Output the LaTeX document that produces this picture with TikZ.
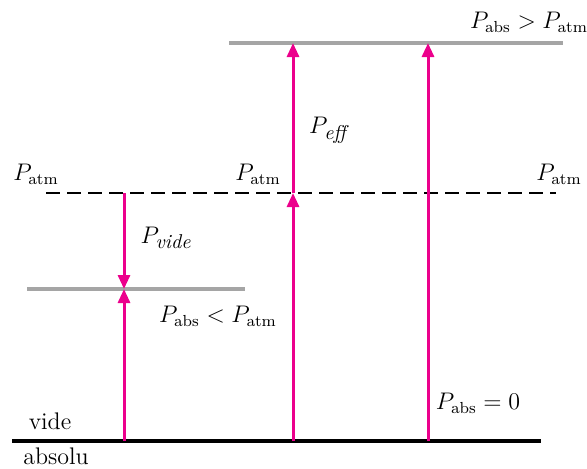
\documentclass[tikz,border=0pt]{standalone}
\usetikzlibrary{arrows.meta}
\usepackage{xcolor}
\definecolor{presspink}{RGB}{236, 0, 140}
\definecolor{levelgray}{RGB}{165, 165, 165}

\begin{document}
\begin{tikzpicture}[
    x=0.5pt, y=-0.5pt,
    font=\large,
    level/.style={draw=#1, line width=1.6pt},
    level/.default=levelgray,
    press/.style={presspink, line width=1.5pt, -{Triangle[length=7pt, width=6pt]}}
]
    \useasboundingbox (0,0) rectangle (587,468);

    % ==========================================
    % LEVELS (absolute zero, vacuum, atmosphere, overpressure)
    % ==========================================
    \coordinate (zero_l)  at (12, 441);
    \coordinate (zero_r)  at (541, 441);
    \coordinate (atm_l)   at (46, 193);
    \coordinate (atm_r)   at (556, 193);
    \coordinate (low_l)   at (27, 289);
    \coordinate (low_r)   at (245, 289);
    \coordinate (high_l)  at (229, 43);
    \coordinate (high_r)  at (563, 43);

    \draw[level=black] (zero_l) -- (zero_r);
    \draw[line width=1pt, dash pattern=on 7pt off 3.5pt] (atm_l) -- (atm_r);
    \draw[level] (low_l) -- (low_r);
    \draw[level] (high_l) -- (high_r);

    % ==========================================
    % ARROWS (Pink)
    % ==========================================
    \coordinate (v_zero) at (124, 441);
    \coordinate (v_low)  at (124, 289);
    \coordinate (v_atm)  at (124, 193);
    \coordinate (e_zero) at (293, 441);
    \coordinate (e_atm)  at (293, 193);
    \coordinate (e_high) at (293, 43);
    \coordinate (a_zero) at (428, 441);
    \coordinate (a_high) at (428, 43);

    \draw[press] (v_atm)  -- (v_low);
    \draw[press] (v_zero) -- (v_low);
    \draw[press] (e_zero) -- (e_atm);
    \draw[press] (e_atm)  -- (e_high);
    \draw[press] (a_zero) -- (a_high);

    % ==========================================
    % LABELS
    % ==========================================
    \node (atm_lbl_l) at (36, 174)  {$P_{\mathrm{atm}}$};
    \node (atm_lbl_m) at (258, 174) {$P_{\mathrm{atm}}$};
    \node (atm_lbl_r) at (559, 174) {$P_{\mathrm{atm}}$};
    \node (vide_lbl)  at (166, 238) {$P_{\mbox{\normalsize\itshape vide}}$};
    \node (low_lbl)   at (218, 316) {$P_{\mathrm{abs}} < P_{\mathrm{atm}}$};
    \node (eff_lbl)   at (328, 130) {$P_{\mbox{\normalsize\itshape eff}}$};
    \node (high_lbl)  at (529, 22)  {$P_{\mathrm{abs}} > P_{\mathrm{atm}}$};
    \node (zero_lbl)  at (478, 403) {$P_{\mathrm{abs}} = 0$};
    \node (vide_txt)  at (50, 421)  {vide};
    \node (abs_txt)   at (56, 456)  {absolu};

\end{tikzpicture}
\end{document}
